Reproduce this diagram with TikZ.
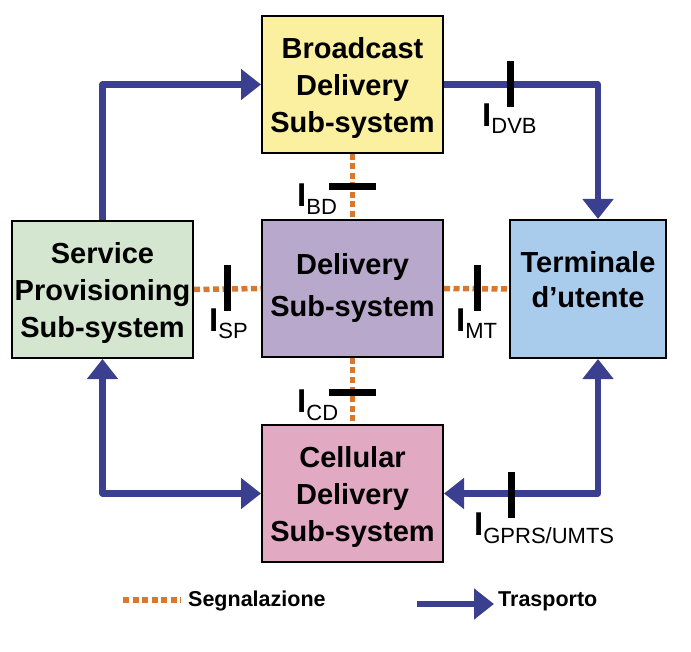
\documentclass[tikz,border=0pt]{standalone}
\usepackage{fontspec}
\setmainfont{Liberation Sans}
\usetikzlibrary{arrows.meta}
\definecolor{tblue}{HTML}{3B3F8F}
\definecolor{sorange}{HTML}{D8782F}
\definecolor{fyellow}{HTML}{FAF0A0}
\definecolor{fpurple}{HTML}{B8A8CC}
\definecolor{fgreen}{HTML}{D4E6D0}
\definecolor{fblue}{HTML}{A9CBEC}
\definecolor{fpink}{HTML}{E2A9C3}
\newcommand{\ilabel}[2]{{\fontsize{33}{33}\selectfont\bfseries I}\raisebox{-#2}{\fontsize{22}{22}\selectfont #1}}
\begin{document}
\begin{tikzpicture}[x=1pt,y=-1pt,
  box/.style={draw=black, line width=2pt, minimum width=181pt, minimum height=137pt,
    align=center, inner sep=0pt, text depth=0pt, font=\fontsize{29}{37}\selectfont\bfseries},
  boxtext/.style={align=center, inner sep=0pt, text depth=0pt, font=\fontsize{29}{35}\selectfont\bfseries},
  transport/.style={draw=tblue, line width=6.5pt, line join=round, -{Triangle[length=20pt,width=30pt]}},
  transport2/.style={draw=tblue, line width=6.5pt, line join=round, {Triangle[length=20pt,width=30pt]}-{Triangle[length=20pt,width=30pt]}},
  signal/.style={draw=sorange, line width=5.5pt, dash pattern=on 6pt off 3.5pt},
  hbar/.style={fill=black, minimum width=47pt, minimum height=7pt, inner sep=0pt, outer sep=0pt},
  vbar/.style={fill=black, minimum width=7pt, minimum height=46pt, inner sep=0pt, outer sep=0pt},
  ilab/.style={anchor=base west, inner sep=0pt},
  legendtext/.style={anchor=base west, inner sep=0pt, font=\fontsize{21.5}{24}\selectfont\bfseries}
]
\useasboundingbox (0,0) rectangle (691,652);

% boxes
\node[box, fill=fyellow] (bc) at (352.5,84.5) {Broadcast\\Delivery\\Sub-system};
\node[box, fill=fpurple] (dl) at (352.5,288.5) {};
\node[boxtext, font=\fontsize{29}{42}\selectfont\bfseries] (dltext) at ([yshift=4pt]dl.center) {Delivery\\Sub-system};
\node[box, fill=fgreen] (sp) at (102.5,289.5) {Service\\Provisioning\\Sub-system};
\node[box, fill=fblue, minimum width=156pt, minimum height=138pt] (te) at (588,289) {};
\node[boxtext] (tetext) at ([yshift=10pt]te.center) {Terminale\\d’utente};
\node[box, fill=fpink] (cd) at (352.5,493.5) {Cellular\\Delivery\\Sub-system};

% signalling (orange dotted)
\draw[signal] (bc.south) -- (dl.north);
\draw[signal] (dl.south) -- (cd.north);
\draw[signal] (sp.east) -- (dl.west);
\draw[signal] (dl.east) -- (te.west);

% transport (blue)
\draw[transport] (sp.north) |- (bc.west);
\draw[transport] (bc.east) -| ([xshift=10pt]te.north);
\draw[transport2] (sp.south) |- (cd.west);
\draw[transport2] ([xshift=10pt]te.south) |- (cd.east);

% interface bars
\node[hbar] (bdbar) at (352,187) {};
\node[hbar] (cdbar) at (352,392) {};
\node[vbar] (spbar) at (227,288.5) {};
\node[vbar] (mtbar) at (477,288.5) {};
\node[vbar] (dvbbar) at (510.5,84.5) {};
\node[vbar] (gprsbar) at (511,494.5) {};

% interface labels
\node[ilab] (bdlab) at (297,207) {\ilabel{BD}{8pt}};
\node[ilab] (cdlab) at (297,412) {\ilabel{CD}{8pt}};
\node[ilab] (splab) at (209,332) {\ilabel{SP}{7pt}};
\node[ilab] (mtlab) at (456,332) {\ilabel{MT}{7pt}};
\node[ilab] (dvblab) at (482,127) {\ilabel{DVB}{7pt}};
\node[ilab] (gprslab) at (474,535) {\ilabel{GPRS/UMTS}{8pt}};

% legend
\coordinate (sgA) at (123,600);
\coordinate (sgB) at (181,600);
\draw[signal] (sgA) -- (sgB);
\node[legendtext] (sgtext) at (188,606) {Segnalazione};
\coordinate (trA) at (417,604);
\coordinate (trB) at (494,604);
\draw[transport] (trA) -- (trB);
\node[legendtext] (trtext) at (498,606) {Trasporto};
\end{tikzpicture}
\end{document}
